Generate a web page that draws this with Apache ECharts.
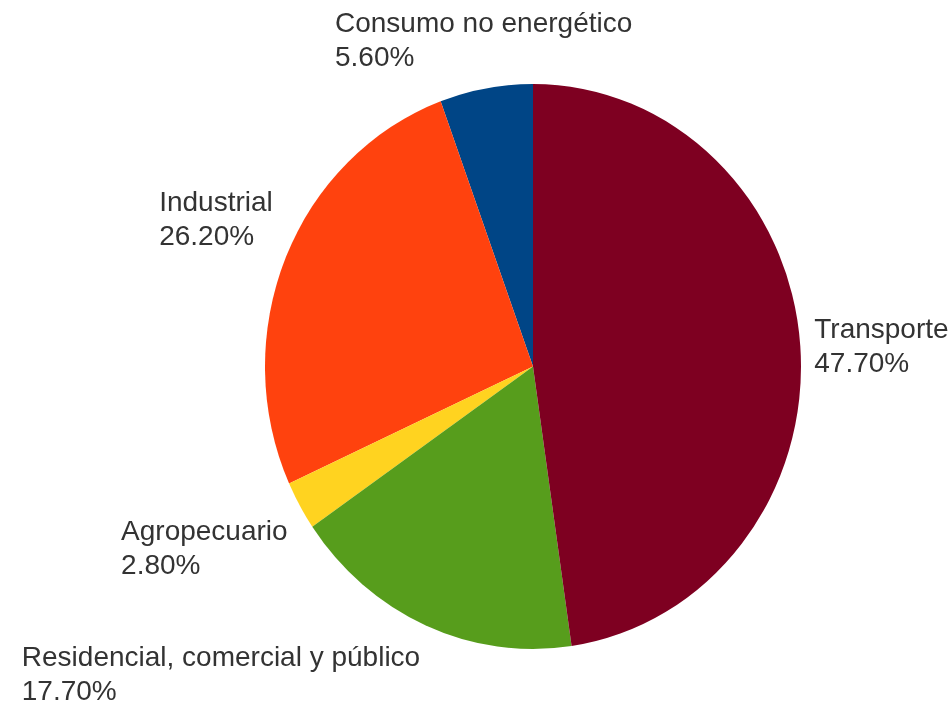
<!DOCTYPE html>
<html>
<head>
<meta charset="utf-8">
<script src="https://cdn.jsdelivr.net/npm/echarts@6/dist/echarts.min.js"></script>
<style>
  html, body { margin: 0; padding: 0; background: #ffffff; }
  #wrap { position: relative; width: 952px; height: 704px; overflow: hidden; }
  #pie, #labels { position: absolute; left: 0; top: 0; width: 952px; height: 704px; }
</style>
</head>
<body>
<div id="wrap">
  <div id="pie"></div>
  <div id="labels"></div>
</div>
<script>
// Final energy consumption by sector (share, %)
const sectors = ['Consumo no energético', 'Industrial', 'Agropecuario', 'Residencial, comercial y público', 'Transporte'];
const shares = [5.6, 26.2, 2.8, 17.7, 47.7];
const sectorColors = ['#004586', '#ff420e', '#ffd320', '#579d1c', '#7e0021'];

// Geometry of the (slightly elliptical) pie
const CX = 533, CY = 366.5;
const RX = 268, RY = 282.5;
const LABEL_GAP_X = 14;
const LABEL_GAP_Y = 15;
const TEXT_SHIFT_Y = 2;

// Slices: a circular pie squeezed horizontally into an ellipse
const pieEl = document.getElementById('pie');
pieEl.style.transformOrigin = CX + 'px ' + CY + 'px';
pieEl.style.transform = 'scaleX(' + (RX / RY) + ')';

const pieChart = echarts.init(pieEl, null, { renderer: 'svg' });
pieChart.setOption({
  animation: false,
  series: [{
    type: 'pie',
    silent: true,
    center: [CX, CY],
    radius: RY,
    startAngle: 90,
    clockwise: false,
    label: { show: false },
    labelLine: { show: false },
    itemStyle: { borderWidth: 0 },
    emphasis: { disabled: true },
    data: sectors.map((name, i) => ({
      name: name,
      value: shares[i],
      itemStyle: { color: sectorColors[i] }
    }))
  }]
});

// Labels: placed just outside the ellipse at each slice's mid angle
const total = shares.reduce((a, b) => a + b, 0);
const midAngles = [];
let acc = 0;
shares.forEach(v => {
  midAngles.push((acc + v / 2) / total * 2 * Math.PI);
  acc += v;
});

const labelChart = echarts.init(document.getElementById('labels'));
labelChart.setOption({
  animation: false,
  series: [{
    type: 'pie',
    silent: true,
    center: [CX, CY],
    radius: RY,
    startAngle: 90,
    clockwise: false,
    itemStyle: { color: 'rgba(0,0,0,0)', borderWidth: 0 },
    emphasis: { disabled: true },
    labelLine: { show: false },
    label: {
      show: true,
      position: 'outside',
      overflow: 'none',
      formatter: p => p.name + '\n' + p.value.toFixed(2) + '%',
      fontFamily: '"Liberation Sans", Arial, sans-serif',
      fontSize: 28,
      lineHeight: 34,
      color: '#333333'
    },
    labelLayout: function (params) {
      const a = midAngles[params.dataIndex];
      const s = -Math.sin(a);   // counter-clockwise from the top
      const c = Math.cos(a);
      const ax = CX + (RX + LABEL_GAP_X) * s;
      const ay = CY - (RY + LABEL_GAP_Y) * c;
      const w = params.labelRect.width;
      const h = params.labelRect.height;
      let x, y;
      if (s > 0.26) x = ax;
      else if (s < -0.26) x = ax - w;
      else x = ax - w / 2;
      if (c > 0.26) y = ay - h;
      else if (c < -0.26) y = ay;
      else y = ay - h / 2;
      return { x: x, y: y + TEXT_SHIFT_Y, align: 'left', verticalAlign: 'top' };
    },
    data: sectors.map((name, i) => ({ name: name, value: shares[i] }))
  }]
});
</script>
</body>
</html>
